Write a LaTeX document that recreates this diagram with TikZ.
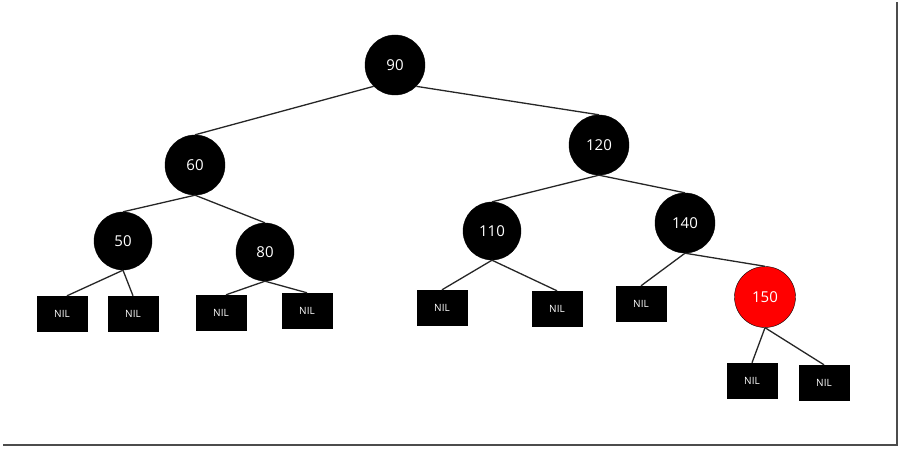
\documentclass[tikz,border=0pt]{standalone}
\usepackage{fontspec}
\setmainfont{Open Sans}
\begin{document}
\begin{tikzpicture}[x=1pt,y=-1pt,
  rb/.style={circle,fill=black,draw=black,minimum size=60pt,inner sep=0pt,text=white,font=\fontsize{15}{17}\selectfont},
  rr/.style={rb,fill=red},
  nil/.style={rectangle,fill=black,minimum width=51pt,minimum height=36pt,inner sep=0pt,text=white,font=\fontsize{10}{11}\selectfont},
  edge/.style={draw=black!85,line width=1.3pt}]
\useasboundingbox (0,0) rectangle (900,449);
\fill[white] (0,0) rectangle (900,449);
\draw[black!70,line width=2pt] (3,445) -- (897,445) -- (897,2);
% nodes
\node[rb] (n90) at (395,65) {90};
\node[rb] (n120) at (599,145) {120};
\node[rb] (n60) at (195,165) {60};
\node[rb,minimum size=58pt] (n50) at (123,241) {50};
\node[rb,minimum size=58pt] (n80) at (265,252) {80};
\node[rb,minimum size=58pt] (n110) at (492,231) {110};
\node[rb] (n140) at (685,223) {140};
\node[rr,minimum size=61pt] (n150) at (765,297) {150};
\node[nil] (l1) at (62,314) {NIL};
\node[nil] (l2) at (133,314) {NIL};
\node[nil] (l3) at (221,313) {NIL};
\node[nil] (l4) at (307,311) {NIL};
\node[nil] (l5) at (442,308) {NIL};
\node[nil] (l6) at (557,309) {NIL};
\node[nil] (l7) at (641,304) {NIL};
\node[nil] (l8) at (752,381) {NIL};
\node[nil] (l9) at (824,383) {NIL};
% edges
\draw[edge] (n90.225) -- (n60.north);
\draw[edge] (n90.315) -- (n120.north);
\draw[edge] (n60.south) -- (n50.north);
\draw[edge] (n60.south) -- (n80.north);
\draw[edge] (n50.south) -- ([xshift=5pt]l1.north);
\draw[edge] (n50.south) -- (l2.north);
\draw[edge] (n80.south) -- ([xshift=5pt]l3.north);
\draw[edge] (n80.south) -- (l4.north);
\draw[edge] (n120.south) -- (n110.north);
\draw[edge] (n120.south) -- (n140.north);
\draw[edge] (n110.south) -- (l5.north);
\draw[edge] (n110.south) -- (l6.north);
\draw[edge] (n140.south) -- (l7.north);
\draw[edge] (n140.south) -- (n150.north);
\draw[edge] (n150.south) -- (l8.north);
\draw[edge] (n150.south) -- (l9.north);
\end{tikzpicture}
\end{document}
